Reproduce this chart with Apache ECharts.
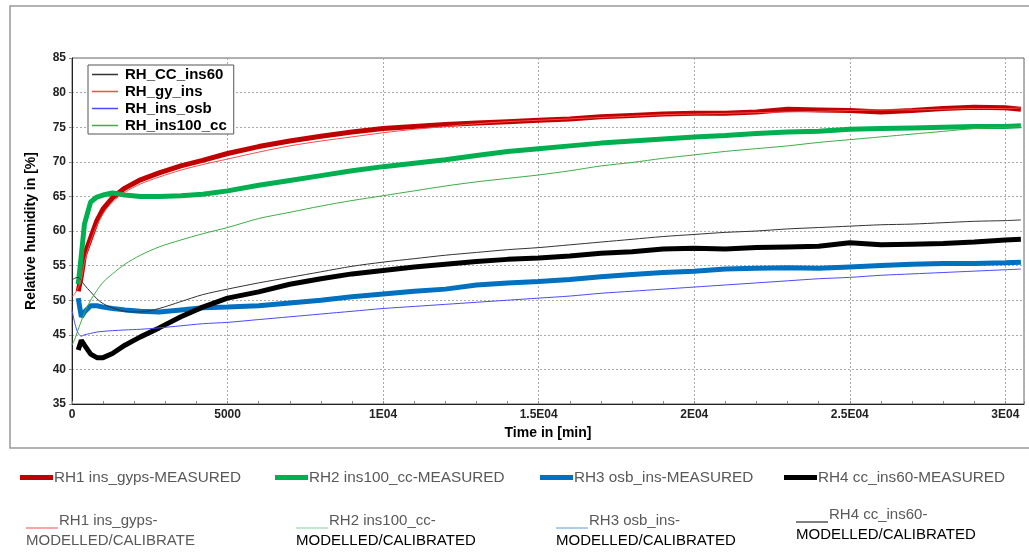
<!DOCTYPE html>
<html>
<head>
<meta charset="utf-8">
<script src="https://cdn.jsdelivr.net/npm/echarts@6/dist/echarts.min.js"></script>
<style>
  html, body { margin: 0; padding: 0; background: #fff; }
  #chart { width: 1029px; height: 552px; }
</style>
</head>
<body>
<div id="chart"></div>
<script>
// time axis in minutes, shared by every series
const times = [0, 100, 200, 300, 400, 600, 800, 1000, 1300, 1700, 2200, 2800, 3500, 4200, 5000,
  6000, 7000, 8000, 9000, 10000, 11000, 12000, 13000, 14000, 15000, 16000, 17000, 18000, 19000,
  20000, 21000, 22000, 23000, 24000, 25000, 26000, 27000, 28000, 29000, 30000, 30500]

// measured RH (thick lines)
const rh1Measured = [null, null, 51.3, 53.5, 56.5, 59, 61.5, 63.2, 64.8, 66.2, 67.4, 68.4, 69.4, 70.2, 71.2,
  72.2, 73.0, 73.7, 74.3, 74.8, 75.1, 75.4, 75.6, 75.8, 76.0, 76.2, 76.5, 76.7, 76.9,
  77.0, 77.0, 77.2, 77.6, 77.5, 77.4, 77.2, 77.4, 77.7, 77.9, 77.8, 77.6]
const rh2Measured = [null, null, 52.3, 56.5, 61, 64.2, 64.9, 65.2, 65.5, 65.2, 65.0, 65.0, 65.1, 65.3, 65.8,
  66.6, 67.3, 68.0, 68.7, 69.3, 69.8, 70.3, 70.9, 71.5, 71.9, 72.3, 72.7, 73.0, 73.3,
  73.6, 73.8, 74.1, 74.3, 74.4, 74.7, 74.8, 74.9, 75.0, 75.1, 75.1, 75.2]
const rh3Measured = [null, null, 50.3, 47.6, 48.3, 49.2, 49.2, 49.0, 48.8, 48.6, 48.4, 48.3, 48.6, 48.9, 49.0,
  49.2, 49.6, 50.0, 50.5, 50.9, 51.3, 51.6, 52.2, 52.5, 52.7, 53.0, 53.4, 53.7, 54.0,
  54.2, 54.5, 54.6, 54.7, 54.6, 54.8, 55.0, 55.2, 55.3, 55.3, 55.4, 55.5]
const rh4Measured = [null, null, 42.8, 44.2, 43.5, 42.2, 41.7, 41.7, 42.3, 43.5, 44.7, 46.0, 47.6, 49.0, 50.3,
  51.2, 52.3, 53.1, 53.8, 54.3, 54.8, 55.2, 55.6, 55.9, 56.1, 56.4, 56.8, 57.0, 57.4,
  57.5, 57.4, 57.6, 57.7, 57.8, 58.3, 58.0, 58.1, 58.2, 58.4, 58.7, 58.8]

// modelled / calibrated RH (thin lines)
const ccIns60Model = [52.9, 53.2, 53.3, 52.8, 52.2, 51.2, 50.2, 49.5, 48.9, 48.4, 48.3, 48.8, 49.8, 50.8, 51.6,
  52.5, 53.3, 54.1, 54.9, 55.5, 56.0, 56.5, 56.9, 57.3, 57.6, 58.0, 58.4, 58.8, 59.2,
  59.5, 59.8, 60.0, 60.3, 60.5, 60.7, 60.9, 61.0, 61.2, 61.4, 61.5, 61.6]
const gyInsModel = [50.5, 51, 51.8, 53, 55.5, 58.5, 60.8, 62.5, 64.2, 65.6, 66.8, 67.8, 68.8, 69.6, 70.4,
  71.4, 72.3, 73.0, 73.6, 74.2, 74.7, 75.1, 75.5, 75.8, 76.0, 76.2, 76.4, 76.6, 76.8,
  76.9, 77.0, 77.1, 77.2, 77.3, 77.4, 77.5, 77.5, 77.6, 77.7, 77.7, 77.8]
const insOsbModel = [48.6, 46.5, 45.2, 44.8, 45.0, 45.2, 45.4, 45.5, 45.6, 45.7, 45.8, 46.0, 46.3, 46.6, 46.8,
  47.2, 47.6, 48.0, 48.4, 48.8, 49.1, 49.4, 49.7, 50.0, 50.3, 50.6, 51.0, 51.3, 51.6,
  51.9, 52.2, 52.5, 52.8, 53.1, 53.3, 53.6, 53.8, 54.0, 54.2, 54.4, 54.5]
const ins100CcModel = [43.5, 44.5, 45.8, 47, 48.2, 50, 51.4, 52.6, 53.8, 55.2, 56.5, 57.7, 58.7, 59.6, 60.5,
  61.8, 62.7, 63.6, 64.4, 65.1, 65.8, 66.5, 67.1, 67.6, 68.1, 68.7, 69.4, 69.9, 70.5,
  71.0, 71.5, 71.9, 72.3, 72.8, 73.2, 73.6, 74.0, 74.4, 74.8, 75.0, 75.1]

// x tick labels as printed on the axis
const xTickLabels = { 0: '0', 5000: '5000', 10000: '1E04', 15000: '1.5E04', 20000: '2E04', 25000: '2.5E04', 30000: '3E04' }

const pairs = arr => times.map((t, i) => [t, arr[i]])

const chart = echarts.init(document.getElementById('chart'))

const measured = (name, data, color) => ({
  name, type: 'line', data: pairs(data), symbol: 'none', z: 2,
  lineStyle: { color, width: 5 }, itemStyle: { color }
})
const modelled = (name, data, color) => ({
  name, type: 'line', data: pairs(data), symbol: 'none', smooth: 0.3, z: 3,
  lineStyle: { color, width: 1 }, itemStyle: { color }
})

const bottomLegend = (name, left) => ({
  data: [name], left, top: 470, padding: 0, itemWidth: 33, itemHeight: 5, itemGap: 0,
  icon: 'rect', textStyle: { color: '#595959', fontSize: 15.3, fontFamily: 'Liberation Sans', padding: [0, 0, 0, -4] }
})

const modelNote = (x, y, color, line1, line2, color2) => ([
  { type: 'line', shape: { x1: x, y1: y + 7, x2: x + 32, y2: y + 7 }, style: { stroke: color, lineWidth: 1 } },
  { type: 'text', x: x + 33, y: y - 8, style: { text: line1, fill: '#595959', font: '15px "Liberation Sans"' } },
  { type: 'text', x: x, y: y + 12, style: { text: line2, fill: color2, font: '15px "Liberation Sans"' } }
])

const option = {
  backgroundColor: '#fff',
  animation: false,
  grid: { left: 72, top: 58, right: 5, bottom: 148, show: true, borderColor: '#666', borderWidth: 1 },
  legend: [
    {
      data: ['RH_CC_ins60', 'RH_gy_ins', 'RH_ins_osb', 'RH_ins100_cc'],
      icon: 'rect', orient: 'vertical', left: 88, top: 65, itemWidth: 26, itemHeight: 1.5, itemGap: 2,
      borderColor: '#555', borderWidth: 1, padding: [2, 7, 1, 4], backgroundColor: '#fff',
      textStyle: { color: '#000', fontWeight: 'bold', fontSize: 15, lineHeight: 15, fontFamily: 'Liberation Sans', padding: [0, 0, 0, 2] }
    },
    bottomLegend('RH1 ins_gyps-MEASURED', 20),
    bottomLegend('RH2 ins100_cc-MEASURED', 275),
    bottomLegend('RH3 osb_ins-MEASURED', 540),
    bottomLegend('RH4 cc_ins60-MEASURED', 784)
  ],
  xAxis: {
    type: 'value', min: 0, max: 30600, interval: 5000,
    name: 'Time in [min]', nameLocation: 'middle', nameGap: 22,
    nameTextStyle: { color: '#000', fontWeight: 'bold', fontSize: 14, fontFamily: 'Liberation Sans' },
    axisLine: { lineStyle: { color: '#222' } },
    axisTick: { length: 3, inside: true, lineStyle: { color: '#888' } },
    minorTick: { show: true, splitNumber: 5, length: 3, lineStyle: { color: '#888' } },
    axisLabel: {
      color: '#222', fontWeight: 'bold', fontSize: 12, fontFamily: 'Liberation Sans', margin: 5,
      formatter: v => xTickLabels[v] !== undefined ? xTickLabels[v] : ''
    },
    splitLine: { show: true, lineStyle: { color: '#aaa', type: [2, 2] } }
  },
  yAxis: {
    type: 'value', min: 35, max: 85, interval: 5,
    name: 'Relative humidity in [%]', nameLocation: 'middle', nameGap: 34,
    nameTextStyle: { color: '#000', fontWeight: 'bold', fontSize: 14, fontFamily: 'Liberation Sans' },
    axisLine: { show: true, lineStyle: { color: '#222' } },
    axisTick: { show: true, length: 3, lineStyle: { color: '#888' } },
    axisLabel: { color: '#222', fontWeight: 'bold', fontSize: 12, fontFamily: 'Liberation Sans', margin: 6 },
    splitLine: { show: true, lineStyle: { color: '#aaa', type: [2, 2] } }
  },
  series: [
    measured('RH1 ins_gyps-MEASURED', rh1Measured, '#c00000'),
    measured('RH2 ins100_cc-MEASURED', rh2Measured, '#00b050'),
    measured('RH3 osb_ins-MEASURED', rh3Measured, '#0070c0'),
    measured('RH4 cc_ins60-MEASURED', rh4Measured, '#000000'),
    modelled('RH_CC_ins60', ccIns60Model, '#333333'),
    modelled('RH_gy_ins', gyInsModel, '#ff4a4a'),
    modelled('RH_ins_osb', insOsbModel, '#4a4aff'),
    modelled('RH_ins100_cc', ins100CcModel, '#3cae46')
  ],
  graphic: [
    { type: 'rect', z: -1, shape: { x: 10, y: 6, width: 1030, height: 442 }, style: { fill: 'none', stroke: '#999', lineWidth: 1.5 } },
    ...modelNote(26, 521, '#ff4a4a', 'RH1 ins_gyps-', 'MODELLED/CALIBRATE', '#595959'),
    ...modelNote(296, 521, '#7fd39a', 'RH2 ins100_cc-', 'MODELLED/CALIBRATED', '#000'),
    ...modelNote(556, 521, '#5b9bd5', 'RH3 osb_ins-', 'MODELLED/CALIBRATED', '#000'),
    ...modelNote(796, 515, '#000', 'RH4 cc_ins60-', 'MODELLED/CALIBRATED', '#000')
  ]
}

chart.setOption(option)
window.addEventListener('resize', () => chart.resize())
</script>
</body>
</html>
